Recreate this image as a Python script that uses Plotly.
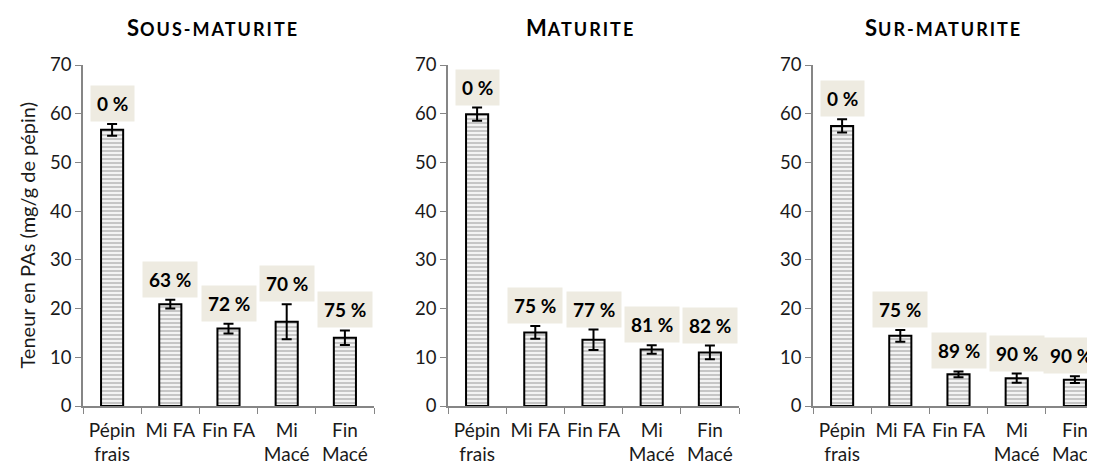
import plotly.graph_objects as go

categories = ["Pépin<br>frais", "Mi FA", "Fin FA", "Mi<br>Macé", "Fin<br>Macé"]
panel_titles = [("S", "OUS-MATURITE"), ("M", "ATURITE"), ("S", "UR-MATURITE")]

sous_values = [56.7, 20.9, 15.9, 17.3, 14.0]
sous_errors = [1.2, 0.9, 1.0, 3.6, 1.5]
sous_labels = ["0 %", "63 %", "72 %", "70 %", "75 %"]

mat_values = [59.9, 15.1, 13.6, 11.6, 11.0]
mat_errors = [1.35, 1.3, 2.1, 0.85, 1.4]
mat_labels = ["0 %", "75 %", "77 %", "81 %", "82 %"]

sur_values = [57.5, 14.4, 6.5, 5.7, 5.4]
sur_errors = [1.35, 1.2, 0.6, 0.95, 0.7]
sur_labels = ["0 %", "75 %", "89 %", "90 %", "90 %"]

y_ticks = [0, 10, 20, 30, 40, 50, 60, 70]
y_title = "Teneur en PAs (mg/g de pépin)"

panels = [
    (sous_values, sous_errors, sous_labels),
    (mat_values, mat_errors, mat_labels),
    (sur_values, sur_errors, sur_labels),
]

# page body has an 8px margin, so the figure is laid out 8px smaller
W, H = 1087, 461
FONT = "Lato, 'Open Sans', sans-serif"
CAT_PX = 58.2
domains = [(75, 366), (440, 731), (805, 1087)]
title_x = [205, 572, 935]

fig = go.Figure()
axis_color = "#868686"
txt_color = "#1a1a1a"

for i, (vals, errs, labs) in enumerate(panels):
    xa = "x" if i == 0 else f"x{i+1}"
    ya = "y" if i == 0 else f"y{i+1}"
    fig.add_trace(go.Bar(
        x=categories, y=vals, xaxis=xa, yaxis=ya, width=0.38,
        marker=dict(color="white", line=dict(color="black", width=2),
                    pattern=dict(shape="-", size=4, solidity=0.5,
                                 fgcolor="#999999", bgcolor="#f3f3f3", fillmode="overlay")),
        error_y=dict(type="data", array=errs, visible=True, color="black",
                     thickness=2, width=5),
        showlegend=False, hoverinfo="skip",
    ))
    d = domains[i]
    span_cats = (d[1] - d[0]) / CAT_PX
    xkey = "xaxis" if i == 0 else f"xaxis{i+1}"
    ykey = "yaxis" if i == 0 else f"yaxis{i+1}"
    fig.update_layout(**{
        xkey: dict(domain=[d[0] / W, d[1] / W], anchor=ya, type="category",
                   range=[-0.5, -0.5 + span_cats], tickangle=0,
                   showline=True, linecolor=axis_color, linewidth=1.5,
                   ticks="outside", tickson="boundaries", tickcolor=axis_color,
                   ticklen=6, tickwidth=1.2, showgrid=False, ticklabelstandoff=6,
                   tickfont=dict(family=FONT, size=19, color=txt_color),
                   automargin=False, fixedrange=True),
        ykey: dict(domain=[0, 1], anchor=xa, range=[0, 70], tickvals=y_ticks,
                   showline=True, linecolor=axis_color, linewidth=1.5,
                   ticks="outside", tickcolor=axis_color, ticklen=6, tickwidth=1.2,
                   showgrid=False, zeroline=False,
                   tickfont=dict(family=FONT, size=18.5, color=txt_color),
                   automargin=False, fixedrange=True),
    })
    n = len(categories)
    for k, (c, v, e, lab) in enumerate(zip(categories, vals, errs, labs)):
        edge = (i == len(panels) - 1 and k == n - 1)
        fig.add_annotation(x=c, y=v + e, xref=xa, yref=ya, text=f"<b>{lab}</b>",
                           showarrow=False, xanchor="center", yanchor="bottom", yshift=2,
                           xshift=-4 if edge else 0,
                           bgcolor="#eeebe1", borderpad=6,
                           font=dict(family=FONT, size=19, color="black"))
    big, small = panel_titles[i]
    fig.add_annotation(x=title_x[i] / W, y=1, xref="paper", yref="paper",
                       xanchor="center", yanchor="middle", yshift=38,
                       text=(f"<b><span style='font-size:22px;letter-spacing:1px'>{big}</span>"
                             f"<span style='letter-spacing:2px'>{small}</span></b>"),
                       showarrow=False, font=dict(family=FONT, size=18, color="black"))

fig.add_annotation(x=18 / W, y=0.5, xref="paper", yref="paper", textangle=-90,
                   text=y_title, showarrow=False, xanchor="center", yanchor="middle",
                   font=dict(family=FONT, size=20, color=txt_color))

fig.update_layout(
    width=W, height=H, margin=dict(l=0, r=0, t=57, b=63),
    paper_bgcolor="white", plot_bgcolor="white",
)

fig.write_html("out.html")
